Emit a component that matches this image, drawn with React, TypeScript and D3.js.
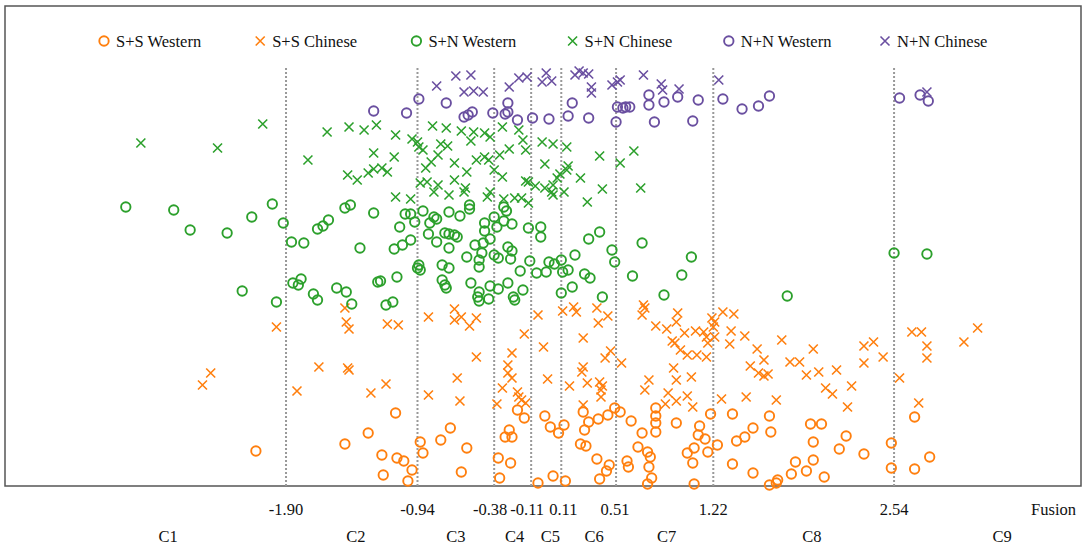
import { scaleLinear } from "d3";

type Pt = [number, number];

// Fusion value, vertical jitter (arbitrary units, 0 = bottom of plot)
const ssWestern: Pt[] = [
  [-2.12, 3.5], [-1.47, 4.2], [-1.3, 5.3], [-1.1, 7.3], [-1.2, 3.1], [-1.09, 2.8], [-1.04, 2.5],
  [-1.19, 1.1], [-1.01, 0.5], [-0.98, 1.6], [-0.92, 4.4], [-0.9, 3.3], [-0.77, 4.6], [-0.7, 5.8],
  [-0.58, 3.8], [-0.62, 1.4], [-0.35, 2.8], [-0.26, 2.3], [-0.34, 0.8], [-0.3, 4.9], [-0.27, 5.6],
  [-0.25, 4.9], [-0.21, 7.6], [-0.16, 6.8], [-0.06, 0.3], [-0.01, 7.0], [0.03, 5.9], [0.09, 5.3],
  [0.13, 6.1], [0.05, 1.0], [0.14, 0.5], [0.27, 7.4], [0.31, 6.4], [0.28, 5.6], [0.25, 4.2],
  [0.29, 4.0], [0.38, 6.7], [0.45, 7.1], [0.5, 7.8], [0.54, 7.4], [0.37, 2.7], [0.46, 2.1],
  [0.44, 1.5], [0.39, 0.7], [0.62, 6.5], [0.7, 5.3], [0.59, 2.5], [0.6, 1.9], [0.67, 3.9],
  [0.74, 3.4], [0.76, 2.9], [0.75, 1.9], [0.77, 0.8], [0.74, 0.2], [0.8, 7.8], [0.8, 7.0],
  [0.8, 6.3], [0.8, 5.4], [0.95, 6.3], [1.12, 6.0], [1.11, 5.1], [1.16, 4.7], [1.03, 3.3],
  [1.08, 3.8], [1.07, 2.3], [1.08, 0.2], [1.18, 3.4], [1.2, 7.2], [1.25, 4.1], [1.36, 7.2],
  [1.39, 4.5], [1.45, 4.9], [1.36, 2.2], [1.51, 1.3], [1.51, 5.8], [1.63, 7.0], [1.64, 5.4],
  [1.93, 6.2], [2.01, 6.2], [1.95, 4.4], [2.19, 5.0], [2.14, 3.7], [2.32, 3.2], [2.52, 4.3],
  [2.69, 6.9], [2.8, 2.9], [2.69, 1.7], [2.52, 1.8], [1.95, 2.6], [1.82, 2.4], [1.9, 1.5],
  [1.79, 1.2], [2.03, 0.9], [1.69, 0.6], [1.68, 0.3], [1.63, 0.1],
];

const ssChinese: Pt[] = [
  [-1.97, 15.9], [-2.45, 11.3], [-2.51, 10.1], [-1.47, 17.8], [-1.46, 16.4], [-1.44, 15.7],
  [-1.16, 16.2], [-1.08, 16.1], [-1.66, 11.9], [-1.45, 11.8], [-1.44, 11.6], [-1.82, 9.5],
  [-1.28, 9.3], [-1.17, 10.2], [-0.86, 16.9], [-0.67, 17.7], [-0.67, 16.6], [-0.62, 16.9],
  [-0.56, 16.0], [-0.51, 16.8], [-0.16, 15.2], [-0.25, 13.3], [-0.51, 12.9], [-0.65, 10.8],
  [-0.86, 9.1], [-0.63, 8.5], [-0.36, 8.2], [-0.32, 9.8], [-0.28, 11.3], [-0.28, 12.1],
  [-0.25, 10.8], [-0.21, 9.4], [-0.2, 8.9], [-0.18, 8.6], [-0.15, 8.3], [-0.06, 17.1],
  [-0.02, 13.9], [0.01, 10.7], [0.12, 17.5], [0.2, 17.9], [0.22, 17.4], [0.17, 10.0],
  [0.27, 14.8], [0.27, 11.9], [0.26, 11.4], [0.3, 10.3], [0.37, 17.8], [0.38, 16.3],
  [0.45, 17.0], [0.43, 12.8], [0.47, 13.5], [0.39, 10.4], [0.41, 10.0], [0.4, 9.6], [0.4, 8.9],
  [0.27, 8.1], [0.55, 12.3], [0.71, 18.1], [0.72, 17.8], [0.7, 17.1], [0.8, 16.0], [0.88, 15.7],
  [0.96, 17.3], [0.95, 16.4], [0.92, 14.5], [0.98, 13.6], [1.01, 15.3], [1.09, 15.5],
  [1.15, 15.4], [1.17, 14.9], [1.18, 14.3], [1.1, 13.1], [1.17, 12.9], [1.23, 14.9],
  [1.23, 16.4], [1.29, 17.4], [1.37, 17.2], [1.35, 15.5], [1.34, 14.2], [1.45, 15.0],
  [1.49, 12.0], [0.93, 11.8], [0.95, 10.6], [0.75, 10.6], [0.72, 9.6], [0.89, 9.3], [0.95, 8.5],
  [1.03, 9.0], [1.06, 10.9], [1.07, 7.9], [0.87, 8.2], [1.28, 8.7], [1.46, 8.9], [0.94, 14.3],
  [1.03, 13.1], [1.22, 15.9], [1.21, 16.8], [1.54, 13.7], [1.72, 14.6], [1.95, 13.7],
  [1.59, 12.6], [1.55, 11.3], [1.59, 11.0], [1.62, 11.2], [1.78, 12.4], [1.85, 12.4],
  [1.9, 11.1], [1.99, 11.4], [2.12, 11.6], [2.04, 9.8], [2.09, 9.2], [2.23, 10.0], [2.2, 7.9],
  [1.68, 8.6], [2.32, 14.0], [2.39, 14.4], [2.32, 12.3], [2.46, 12.9], [2.58, 10.8],
  [2.67, 15.4], [2.74, 15.4], [2.78, 14.0], [2.78, 12.8], [2.72, 8.3], [3.05, 14.4], [3.15, 15.8],
];

const snWestern: Pt[] = [
  [-3.07, 27.9], [-2.72, 27.6], [-2.6, 25.6], [-2.33, 25.3], [-2.15, 26.9], [-2.0, 28.2],
  [-1.92, 26.3], [-1.86, 24.4], [-1.77, 24.3], [-1.67, 25.7], [-1.63, 26.0], [-1.59, 26.6],
  [-1.47, 27.8], [-1.43, 28.1], [-1.26, 27.3], [-1.36, 23.8], [-1.07, 25.9], [-1.03, 27.2],
  [-0.99, 27.2], [-0.96, 26.4], [-1.11, 23.7], [-1.05, 24.1], [-0.99, 24.6], [-2.22, 19.5],
  [-1.97, 18.4], [-1.85, 20.3], [-1.81, 20.1], [-1.79, 20.7], [-1.7, 19.2], [-1.67, 18.6],
  [-1.53, 19.8], [-1.46, 19.4], [-1.42, 18.2], [-1.23, 20.4], [-1.21, 20.5], [-1.09, 20.9],
  [-1.17, 18.1], [-1.12, 18.4], [-0.94, 21.8], [-0.9, 27.5], [-0.82, 26.9], [-0.71, 27.4],
  [-0.63, 27.0], [-0.56, 28.1], [-0.56, 27.7], [-0.38, 26.9], [-0.31, 27.9], [-0.29, 27.5],
  [-0.85, 26.3], [-0.8, 26.7], [-0.45, 26.3], [-0.31, 26.5], [-0.25, 26.2], [-0.45, 25.5],
  [-0.36, 25.9], [-0.86, 25.2], [-0.8, 24.4], [-0.74, 25.3], [-0.71, 25.2], [-0.67, 25.1],
  [-0.65, 24.9], [-0.71, 23.8], [-0.52, 24.1], [-0.46, 24.3], [-0.41, 24.7], [-0.47, 23.3],
  [-0.49, 22.6], [-0.58, 22.9], [-0.38, 23.1], [-0.35, 22.8], [-0.28, 23.9], [-0.25, 23.5],
  [-0.26, 22.7], [-0.19, 21.5], [-0.93, 22.1], [-0.92, 21.6], [-0.76, 22.1], [-0.71, 21.8],
  [-0.49, 21.9], [-0.76, 20.6], [-0.74, 20.1], [-0.73, 19.8], [-0.55, 20.3], [-0.41, 20.0],
  [-0.35, 19.7], [-0.28, 20.3], [-0.17, 19.6], [-0.49, 19.4], [-0.5, 18.9], [-0.49, 18.5],
  [-0.42, 18.7], [-0.24, 18.9], [-0.23, 18.6], [-0.13, 25.8], [-0.04, 25.9], [-0.04, 24.9],
  [-0.12, 22.5], [-0.07, 21.3], [0.0, 21.4], [0.02, 22.4], [0.06, 22.2], [0.11, 22.6],
  [0.12, 21.4], [0.16, 21.6], [0.21, 23.1], [0.31, 24.7], [0.39, 25.4], [0.28, 21.2],
  [0.32, 20.8], [0.19, 19.9], [0.11, 19.3], [0.41, 18.9], [0.48, 23.6], [0.5, 22.4], [0.63, 21.0],
  [0.7, 24.3], [1.06, 22.9], [0.99, 21.1], [0.86, 19.1], [1.76, 19.0], [2.54, 23.3], [2.78, 23.2],
];

const snChinese: Pt[] = [
  [-2.96, 34.3], [-2.4, 33.8], [-2.07, 36.2], [-1.74, 32.6], [-1.6, 35.4], [-1.44, 35.9],
  [-1.33, 35.6], [-1.24, 36.1], [-1.1, 35.1], [-0.98, 34.7], [-1.26, 33.3], [-1.11, 32.9],
  [-1.45, 31.1], [-1.38, 30.6], [-1.3, 31.3], [-1.26, 31.7], [-1.2, 31.8], [-1.16, 31.4],
  [-1.1, 28.9], [-0.99, 28.7], [-0.94, 34.4], [-0.83, 36.0], [-0.73, 35.8], [-0.62, 35.5],
  [-0.53, 35.4], [-0.45, 35.3], [-0.41, 34.9], [-0.32, 35.9], [-0.2, 35.6], [-0.55, 34.5],
  [-0.9, 33.6], [-0.77, 34.2], [-0.72, 34.0], [-0.79, 33.1], [-0.84, 32.4], [-0.88, 31.8],
  [-0.67, 32.3], [-0.51, 32.6], [-0.45, 32.9], [-0.42, 32.6], [-0.34, 33.1], [-0.27, 33.7],
  [-0.58, 31.4], [-0.38, 31.6], [-0.32, 30.9], [-0.15, 30.5], [-0.92, 30.3], [-0.87, 30.4],
  [-0.79, 30.1], [-0.67, 30.6], [-0.82, 29.4], [-0.71, 29.1], [-0.6, 29.4], [-0.59, 29.8],
  [-0.43, 28.9], [-0.41, 29.4], [-0.31, 28.7], [-0.23, 28.8], [-0.18, 28.8], [-0.13, 28.3],
  [-0.17, 34.6], [-0.15, 33.6], [-0.03, 34.4], [0.05, 34.2], [0.15, 33.9], [0.39, 33.0],
  [0.64, 33.5], [-0.01, 32.2], [0.16, 32.0], [0.15, 31.6], [0.54, 32.3], [0.1, 31.2], [0.08, 30.8],
  [0.25, 30.8], [-0.13, 30.4], [-0.08, 30.0], [-0.01, 29.8], [0.05, 30.1], [0.04, 29.4],
  [0.05, 29.1], [0.13, 29.4], [0.41, 29.7], [0.69, 29.8], [0.3, 28.4], [-0.93, 33.9],
];

const nnWestern: Pt[] = [
  [-1.26, 37.5], [-1.02, 37.3], [-0.93, 38.7], [-0.73, 38.3], [-0.6, 36.9], [-0.57, 37.1],
  [-0.54, 37.4], [-0.39, 37.3], [-0.28, 38.3], [-0.3, 37.2], [-0.28, 37.4], [-0.21, 36.6],
  [-0.1, 36.8], [0.02, 36.7], [0.16, 37.0], [0.19, 38.3], [0.31, 36.8], [0.51, 36.4],
  [0.52, 37.9], [0.56, 37.8], [0.58, 37.9], [0.61, 37.9], [0.75, 39.1], [0.75, 38.1],
  [0.86, 38.4], [0.96, 38.9], [1.11, 38.6], [0.79, 36.4], [1.07, 36.5], [1.29, 38.7],
  [1.43, 37.7], [1.55, 38.0], [1.63, 39.0], [2.58, 38.8], [2.73, 39.1], [2.79, 38.5],
];

const nnChinese: Pt[] = [
  [-0.66, 41.0], [-0.55, 41.1], [-0.8, 40.0], [-0.6, 39.4], [-0.53, 39.5], [-0.46, 39.4],
  [-0.27, 39.9], [-0.2, 40.8], [-0.14, 40.9], [0.0, 41.3], [-0.03, 40.4], [0.04, 40.5],
  [0.21, 41.1], [0.24, 41.5], [0.27, 41.3], [0.31, 41.2], [0.33, 39.9], [0.33, 39.3],
  [0.48, 40.1], [0.52, 40.4], [0.54, 40.6], [0.71, 41.1], [0.84, 40.2], [0.85, 39.6],
  [0.97, 39.7], [1.26, 40.6], [2.78, 39.4],
];

const cutPoints = [-1.9, -0.94, -0.38, -0.11, 0.11, 0.51, 1.22, 2.54];
const clusterLabels = ["C1", "C2", "C3", "C4", "C5", "C6", "C7", "C8", "C9"];
const clusterPos = [-2.76, -1.39, -0.66, -0.23, 0.03, 0.35, 0.88, 1.94, 3.33];

const ORANGE = "#ff7f0e";
const GREEN = "#2ca02c";
const PURPLE = "#6a4fa0";

const series = [
  { name: "S+S Western", data: ssWestern, color: ORANGE, shape: "circle" },
  { name: "S+S Chinese", data: ssChinese, color: ORANGE, shape: "cross" },
  { name: "S+N Western", data: snWestern, color: GREEN, shape: "circle" },
  { name: "S+N Chinese", data: snChinese, color: GREEN, shape: "cross" },
  { name: "N+N Western", data: nnWestern, color: PURPLE, shape: "circle" },
  { name: "N+N Chinese", data: nnChinese, color: PURPLE, shape: "cross" },
];

const W = 1084;
const H = 545;
const plot = { left: 5, top: 6, right: 1081, bottom: 486 };
const guideTop = 41.8;
// small horizontal nudges so the crowded cut labels don't collide
const tickNudge = [0, 0, -4, -4, 2, -1, 0, 0];

function Marker({ shape, color, x, y }: { shape: string; color: string; x: number; y: number }) {
  if (shape === "circle") {
    return <circle cx={x} cy={y} r={4.7} fill="none" stroke={color} strokeWidth={1.9} />;
  }
  const s = 4.5;
  return (
    <path
      d={`M${x - s},${y - s}L${x + s},${y + s}M${x - s},${y + s}L${x + s},${y - s}`}
      stroke={color}
      strokeWidth={1.6}
      fill="none"
    />
  );
}

function Label({ x, y, anchor = "middle", children }: { x: number; y: number; anchor?: string; children: any }) {
  return (
    <text x={x} y={y} dy="0.35em" textAnchor={anchor} style={{ fontFamily: '"Liberation Serif"', fontSize: "16.5px", fill: "#111" }}>
      {children}
    </text>
  );
}

export default function App() {
  const x = scaleLinear().domain([-3.952, 3.905]).range([plot.left, plot.right]);
  const y = scaleLinear().domain([0, 48]).range([plot.bottom, plot.top]);

  return (
    <svg width={W} height={H} style={{ position: "absolute", left: 0, top: 0, background: "#fff" }}>
      <rect
        x={plot.left}
        y={plot.top}
        width={plot.right - plot.left}
        height={plot.bottom - plot.top}
        fill="#fff"
        stroke="#555"
        strokeWidth={1.5}
      />

      {/* cut points */}
      {cutPoints.map((c) => (
        <line
          key={c}
          x1={x(c)}
          x2={x(c)}
          y1={y(guideTop)}
          y2={y(0)}
          stroke="#999"
          strokeWidth={2}
          strokeDasharray="2,2"
        />
      ))}

      {/* points */}
      {series.map((s) => (
        <g key={s.name}>
          {s.data.map((d, i) => (
            <Marker key={i} shape={s.shape} color={s.color} x={x(d[0])} y={y(d[1])} />
          ))}
        </g>
      ))}

      {/* legend */}
      {series.map((s, i) => {
        const lx = 104 + i * 156.2;
        return (
          <g key={s.name}>
            <Marker shape={s.shape} color={s.color} x={lx} y={41} />
            <Label x={lx + 12} y={41} anchor="start">
              {s.name}
            </Label>
          </g>
        );
      })}

      {/* tick labels */}
      {cutPoints.map((c, i) => (
        <Label key={c} x={x(c) + tickNudge[i]} y={509}>
          {c.toFixed(2)}
        </Label>
      ))}
      <Label x={1076} y={509} anchor="end">
        Fusion
      </Label>

      {clusterLabels.map((c, i) => (
        <Label key={c} x={x(clusterPos[i])} y={536}>
          {c}
        </Label>
      ))}
    </svg>
  );
}
